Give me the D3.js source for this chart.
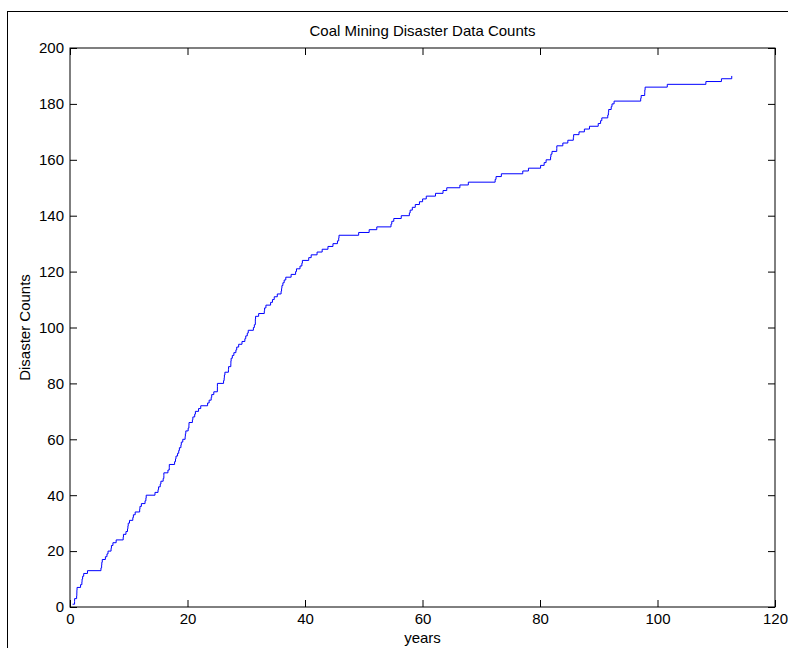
<!DOCTYPE html>
<html>
<head>
<meta charset="utf-8">
<script src="https://cdn.jsdelivr.net/npm/d3@7"></script>
<style>
  body { margin: 0; background: #fff; }
  svg { display: block; }
  text { font-family: "Liberation Sans", Arial, Helvetica, sans-serif; fill: #000; }
</style>
</head>
<body>
<div id="chart"></div>
<script>
// days between successive disasters
const intervalDays = [
  157, 123, 2, 124, 12, 4, 10, 216, 80, 12,
  33, 66, 232, 826, 40, 12, 29, 190, 97, 65,
  186, 23, 92, 197, 431, 16, 154, 95, 25, 19,
  78, 202, 36, 110, 276, 16, 88, 225, 53, 17,
  538, 187, 34, 101, 41, 139, 42, 1, 250, 80,
  3, 324, 56, 31, 96, 70, 41, 93, 24, 91,
  143, 16, 27, 144, 45, 6, 208, 29, 112, 43,
  193, 134, 420, 95, 125, 34, 127, 218, 2, 0,
  378, 36, 15, 31, 215, 11, 137, 4, 15, 72,
  96, 124, 50, 120, 203, 176, 55, 93, 59, 315,
  59, 61, 1, 13, 189, 345, 20, 81, 286, 114,
  108, 188, 233, 28, 22, 61, 78, 99, 326, 275,
  54, 217, 113, 32, 388, 151, 361, 312, 354, 307,
  275, 78, 17, 1205, 644, 467, 871, 48, 123, 456,
  498, 49, 131, 182, 255, 194, 224, 566, 462, 228,
  806, 517, 1643, 54, 326, 1312, 348, 745, 217, 120,
  275, 20, 66, 292, 4, 368, 307, 336, 19, 329,
  330, 312, 536, 145, 75, 364, 37, 19, 156, 47,
  129, 1630, 29, 217, 7, 18, 1358, 2366, 952, 632
];
const daysPerYear = 360;
const xTicks = [0, 20, 40, 60, 80, 100, 120];
const yTicks = [0, 20, 40, 60, 80, 100, 120, 140, 160, 180, 200];

const W = 788, H = 648;
const margin = { top: 48, right: 13, bottom: 41, left: 70 };
const width = W - margin.left - margin.right;
const height = H - margin.top - margin.bottom;

const root = d3.select("#chart").append("svg")
    .attr("width", W)
    .attr("height", H);

// figure frame (runs off the right / bottom edge)
root.append("rect")
    .attr("x", 7.5).attr("y", 11.5)
    .attr("width", 800).attr("height", 700)
    .attr("fill", "none")
    .attr("stroke", "#000")
    .attr("stroke-width", 1);

const svg = root.append("g")
    .attr("transform", `translate(${margin.left},${margin.top})`);

// cumulative count at each disaster
const cum = d3.cumsum(intervalDays);
const data = Array.from(cum, (d, i) => ({ year: d / daysPerYear, count: i + 1 }));

const x = d3.scaleLinear().domain([0, 120]).range([0, width]);
const y = d3.scaleLinear().domain([0, 200]).range([height, 0]);

const tick = 7;

svg.append("g")
    .attr("transform", `translate(0,${height})`)
    .call(d3.axisBottom(x).tickValues(xTicks).tickSizeInner(-tick).tickSizeOuter(0).tickPadding(6).tickFormat(d3.format("d")));

svg.append("g")
    .call(d3.axisTop(x).tickValues(xTicks).tickSizeInner(-tick).tickSizeOuter(0).tickFormat(""));

svg.append("g")
    .call(d3.axisLeft(y).tickValues(yTicks).tickSizeInner(-tick).tickSizeOuter(0).tickPadding(6).tickFormat(d3.format("d")));

svg.append("g")
    .attr("transform", `translate(${width},0)`)
    .call(d3.axisRight(y).tickValues(yTicks).tickSizeInner(-tick).tickSizeOuter(0).tickFormat(""));

svg.selectAll(".domain").remove();
svg.selectAll(".tick line").attr("stroke", "#000");
svg.selectAll(".tick text").style("font-size", "15px").attr("fill", "#000");

// axes box
svg.append("rect")
    .attr("x", 0).attr("y", 0)
    .attr("width", width).attr("height", height)
    .attr("fill", "none")
    .attr("stroke", "#000")
    .attr("stroke-width", 1);

// staircase
const line = d3.line()
    .x(d => x(d.year))
    .y(d => y(d.count))
    .curve(d3.curveStepAfter);

svg.append("path")
    .datum(data)
    .attr("fill", "none")
    .attr("stroke", "#0000ff")
    .attr("stroke-width", 1)
    .attr("d", line);

// labels
svg.append("text")
    .attr("x", width / 2)
    .attr("y", -12)
    .attr("text-anchor", "middle")
    .style("font-size", "15px")
    .text("Coal Mining Disaster Data Counts");

svg.append("text")
    .attr("x", width / 2)
    .attr("y", height + 36)
    .attr("text-anchor", "middle")
    .style("font-size", "15px")
    .text("years");

svg.append("text")
    .attr("transform", "rotate(-90)")
    .attr("x", -height / 2)
    .attr("y", -40)
    .attr("text-anchor", "middle")
    .style("font-size", "15px")
    .text("Disaster Counts");
</script>
</body>
</html>
